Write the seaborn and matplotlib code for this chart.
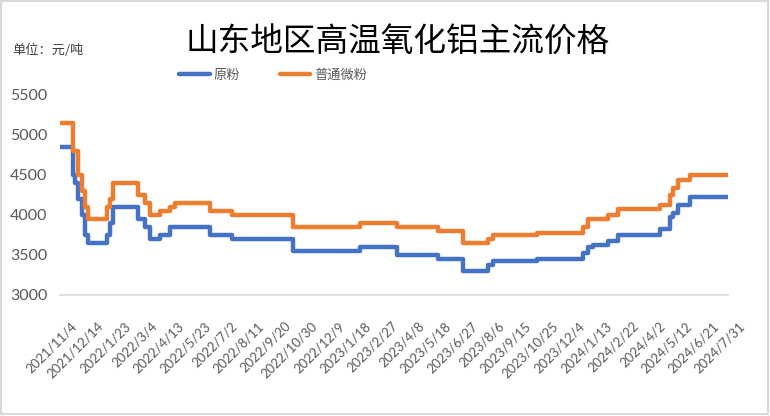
import matplotlib
matplotlib.use("Agg")
import matplotlib.pyplot as plt
from matplotlib.patches import Rectangle
from matplotlib.lines import Line2D
from matplotlib.transforms import ScaledTranslation
import pandas as pd
import seaborn as sns


# Price change dates (step series, each value holds until the next date)
dates = [
    "2021-11-04", "2021-11-23", "2021-11-26", "2021-12-01", "2021-12-07",
    "2021-12-11", "2021-12-16", "2022-01-13", "2022-01-18", "2022-01-22",
    "2022-03-01", "2022-03-11", "2022-03-19", "2022-04-03", "2022-04-18",
    "2022-04-25", "2022-06-17", "2022-07-19", "2022-10-19", "2023-01-27",
    "2023-03-23", "2023-05-24", "2023-06-30", "2023-08-07", "2023-08-14",
    "2023-10-19", "2023-12-27", "2024-01-03", "2024-01-11", "2024-02-02",
    "2024-02-17", "2024-04-20", "2024-05-05", "2024-05-10", "2024-05-17",
    "2024-06-04", "2024-07-31",
]
raw_powder = [
    4850, 4500, 4400, 4200, 4000, 3750, 3650, 3750, 3900, 4100,
    3950, 3850, 3700, 3750, 3850, 3850, 3750, 3700, 3550, 3600,
    3500, 3450, 3300, 3380, 3420, 3450, 3520, 3600, 3620, 3680,
    3750, 3820, 3970, 4030, 4130, 4220, 4220,
]
micro_powder = [
    5150, 4800, 4800, 4500, 4300, 4100, 3950, 4100, 4200, 4400,
    4250, 4150, 4000, 4050, 4100, 4150, 4050, 4000, 3850, 3900,
    3850, 3800, 3650, 3700, 3750, 3780, 3850, 3950, 3950, 4000,
    4080, 4130, 4250, 4340, 4440, 4500, 4500,
]
series_names = ["原粉", "普通微粉"]
series_colors = ["#4472C4", "#ED7D31"]

df = pd.DataFrame({"date": pd.to_datetime(dates), "原粉": raw_powder, "普通微粉": micro_powder})
long_df = df.melt(id_vars="date", var_name="品种", value_name="价格")

sns.set_theme(style="white")
plt.rcParams["font.family"] = ["Lato", "Noto Sans CJK SC", "DejaVu Sans"]

W, H = 770, 416
fig = plt.figure(figsize=(W / 100, H / 100), dpi=100)
ax = fig.add_axes([60 / W, 1 - 295 / H, 668 / W, 200 / H])

sns.lineplot(
    data=long_df, x="date", y="价格", hue="品种",
    palette=dict(zip(series_names, series_colors)),
    drawstyle="steps-post", linewidth=3.2, ax=ax, legend=False,
)

# Axes
start, end = pd.Timestamp("2021-11-04"), pd.Timestamp("2024-07-31")
ticks = pd.date_range(start, end, freq="40D")
ax.set_xlim(start, end)
ax.set_ylim(3000, 5500)
ax.set_yticks(range(3000, 5501, 500))
ax.set_xticks(ticks)
ax.set_xticklabels([f"{d.year}/{d.month}/{d.day}" for d in ticks])
ax.set_xlabel("")
ax.set_ylabel("")
for side in ["left", "top", "right"]:
    ax.spines[side].set_visible(False)
ax.spines["bottom"].set_color("#d9d9d9")
ax.spines["bottom"].set_linewidth(1.2)
ax.tick_params(axis="x", direction="out", length=5, width=1, color="#d9d9d9",
               pad=0, labelsize=9.5, labelcolor="#595959")
ax.tick_params(axis="y", length=0, pad=9, labelsize=11.5, labelcolor="#595959")

offset = ScaledTranslation(15 / 100, -22 / 100, fig.dpi_scale_trans)
for lab in ax.get_xticklabels():
    lab.set_rotation(45)
    lab.set_ha("right")
    lab.set_va("center")
    lab.set_rotation_mode("anchor")
    lab.set_transform(lab.get_transform() + offset)

# Texts
fig.text(398 / W, 1 - 43 / H, "山东地区高温氧化铝主流价格", ha="center", va="center",
         fontsize=23.5, color="#000000", family=["Noto Sans CJK SC", "DejaVu Sans"])
fig.text(12 / W, 1 - 50 / H, "单位：元/吨", ha="left", va="center",
         fontsize=9.5, color="#404040", family=["Noto Sans CJK SC", "DejaVu Sans"])

handles = [Line2D([0], [0], color=c, lw=3.2) for c in series_colors]
fig.legend(handles, series_names, loc="center", bbox_to_anchor=(273 / W, 1 - 75 / H),
           ncol=2, frameon=False, handlelength=2.3, handletextpad=0.3,
           columnspacing=3.0, prop={"family": ["Noto Sans CJK SC"], "size": 9.5},
           labelcolor="#595959")

# Chart border
fig.patches.append(Rectangle((0.001, 0.004), 0.997, 0.994, transform=fig.transFigure,
                             fill=False, edgecolor="#d9d9d9", linewidth=1.5))

fig.savefig("out.png", dpi=100)
